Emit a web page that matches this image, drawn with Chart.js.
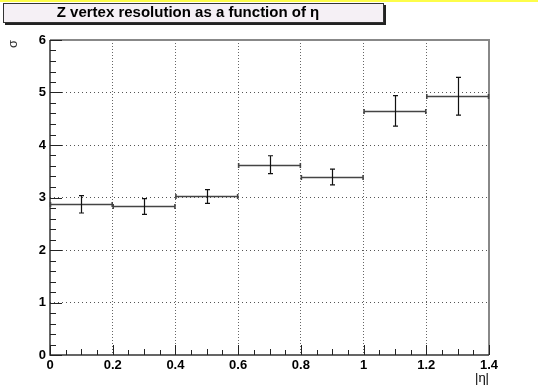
<!DOCTYPE html>
<html>
<head>
<meta charset="utf-8">
<script src="https://cdn.jsdelivr.net/npm/chart.js@4"></script>
<style>
html,body{margin:0;padding:0;background:#fff;}
#wrap{position:relative;width:538px;height:391px;}
</style>
</head>
<body>
<div id="wrap"><canvas id="c" width="538" height="391"></canvas></div>
<script>
// ---- data ----
const binLow  = [0.0, 0.2, 0.4, 0.6, 0.8, 1.0, 1.2];
const binHigh = [0.2, 0.4, 0.6, 0.8, 1.0, 1.2, 1.4];
const sigma    = [2.87, 2.83, 3.02, 3.625, 3.39, 4.65, 4.93];
const sigmaErr = [0.165, 0.15, 0.13, 0.17, 0.15, 0.29, 0.36];
const xTickValues = [0, 0.2, 0.4, 0.6, 0.8, 1.0, 1.2, 1.4];
const xTickLabels = ["0", "0.2", "0.4", "0.6", "0.8", "1", "1.2", "1.4"];
const yTickValues = [0, 1, 2, 3, 4, 5, 6];
const yTickLabels = ["0", "1", "2", "3", "4", "5", "6"];
const titleText = "Z vertex resolution as a function of \u03B7";
const xTitle = "|\u03B7|";
const yTitle = "\u03C3";

const points = binLow.map((lo, i) => ({
  x: (lo + binHigh[i]) / 2, y: sigma[i], lo: lo, hi: binHigh[i], err: sigmaErr[i]
}));

const rootPlugin = {
  id: 'rootStyle',
  beforeDraw(chart) {
    const ctx = chart.ctx;
    ctx.save();
    ctx.fillStyle = '#fdfd4a';
    ctx.fillRect(0, 0, 538, 2);
    ctx.fillStyle = '#222';
    ctx.fillRect(5, 5, 381, 20);
    ctx.fillStyle = '#f5f0f5';
    ctx.fillRect(3, 3, 381, 20);
    ctx.strokeStyle = '#333';
    ctx.lineWidth = 1;
    ctx.strokeRect(3.5, 3.5, 380, 19);
    ctx.fillStyle = '#000';
    ctx.font = 'bold 15px "Liberation Sans", Arial, sans-serif';
    ctx.textAlign = 'center';
    ctx.textBaseline = 'middle';
    ctx.fillText(titleText, 188, 13);
    ctx.restore();
  },
  afterDraw(chart) {
    const ctx = chart.ctx;
    const xs = chart.scales.x, ys = chart.scales.y;
    const a = chart.chartArea;
    ctx.save();
    ctx.strokeStyle = '#888';
    ctx.lineWidth = 2;
    ctx.beginPath();
    ctx.moveTo(a.left, a.top); ctx.lineTo(a.right, a.top); ctx.lineTo(a.right, a.bottom);
    ctx.stroke();
    ctx.strokeStyle = '#333';
    ctx.lineWidth = 1.5;
    ctx.beginPath();
    ctx.moveTo(a.left, a.top); ctx.lineTo(a.left, a.bottom); ctx.lineTo(a.right, a.bottom);
    ctx.stroke();
    ctx.lineWidth = 1;
    ctx.strokeStyle = '#222';
    ctx.beginPath();
    for (let k = 0; k <= 30; k++) {
      const v = k * 0.2;
      if (v > 6.0001) break;
      const py = Math.round(ys.getPixelForValue(v)) + 0.5;
      const len = (k % 5 === 0) ? 12 : 6;
      ctx.moveTo(a.left, py); ctx.lineTo(a.left + len, py);
    }
    for (let k = 0; k <= 28; k++) {
      const v = k * 0.05;
      const px = Math.round(xs.getPixelForValue(v)) + 0.5;
      const len = (k % 4 === 0) ? 10 : (k % 2 === 0 ? 6 : 5);
      ctx.moveTo(px, a.bottom); ctx.lineTo(px, a.bottom - len);
    }
    ctx.stroke();
    const meta = chart.getDatasetMeta(0);
    meta.data.forEach((el, i) => {
      const p = points[i];
      const yc = Math.round(el.y) + 0.5;
      const x1 = xs.getPixelForValue(p.lo), x2 = xs.getPixelForValue(p.hi);
      const yt = ys.getPixelForValue(p.y + p.err), yb = ys.getPixelForValue(p.y - p.err);
      ctx.strokeStyle = '#444';
      ctx.lineWidth = 1.6;
      ctx.beginPath();
      ctx.moveTo(x1, yc); ctx.lineTo(x2, yc);
      ctx.moveTo(x1 + 0.5, yc - 2.5); ctx.lineTo(x1 + 0.5, yc + 2.5);
      ctx.moveTo(x2 - 0.5, yc - 2.5); ctx.lineTo(x2 - 0.5, yc + 2.5);
      ctx.stroke();
      ctx.strokeStyle = '#111';
      ctx.lineWidth = 1.2;
      const xc = Math.round(el.x) + 0.5;
      ctx.beginPath();
      ctx.moveTo(xc, yt); ctx.lineTo(xc, yb);
      ctx.moveTo(xc - 2.5, yt); ctx.lineTo(xc + 2.5, yt);
      ctx.moveTo(xc - 2.5, yb); ctx.lineTo(xc + 2.5, yb);
      ctx.stroke();
    });
    ctx.fillStyle = '#000';
    ctx.font = '13px "Liberation Sans", Arial, sans-serif';
    ctx.textAlign = 'right';
    ctx.textBaseline = 'top';
    ctx.fillText(xTitle, a.right, 372);
    ctx.save();
    ctx.translate(13, a.top);
    ctx.rotate(-Math.PI / 2);
    ctx.textAlign = 'right';
    ctx.textBaseline = 'middle';
    ctx.fillStyle = '#333';
    ctx.font = '13px "Liberation Sans", Arial, sans-serif';
    ctx.fillText(yTitle, 0, 0);
    ctx.restore();
    ctx.restore();
  }
};

new Chart(document.getElementById('c'), {
  type: 'scatter',
  data: {
    datasets: [{
      data: points,
      showLine: false,
      pointRadius: 0,
      pointHoverRadius: 0
    }]
  },
  options: {
    responsive: false,
    animation: false,
    events: [],
    layout: { padding: { left: 0, top: 40, right: 49, bottom: 0 } },
    plugins: { legend: { display: false }, tooltip: { enabled: false }, title: { display: false } },
    scales: {
      x: {
        type: 'linear', min: 0, max: 1.4,
        afterFit(s) { s.height = 36; },
        afterBuildTicks(s) { s.ticks = xTickValues.map(v => ({ value: v })); },
        ticks: {
          padding: 3, color: '#000',
          font: { family: '"Liberation Sans", Arial, sans-serif', size: 13, weight: 'bold' },
          callback: (v) => { const i = xTickValues.findIndex(t => Math.abs(t - v) < 1e-6); return i >= 0 ? xTickLabels[i] : ''; },
          maxRotation: 0, autoSkip: false
        },
        grid: { color: (c) => (c.tick && (c.tick.value === 0 || c.tick.value === 1.4)) ? 'rgba(0,0,0,0)' : '#666', lineWidth: 1, drawTicks: false },
        border: { display: false, dash: [1, 2] }
      },
      y: {
        type: 'linear', min: 0, max: 6,
        afterFit(s) { s.width = 50; },
        afterBuildTicks(s) { s.ticks = yTickValues.map(v => ({ value: v })); },
        ticks: {
          padding: 4, color: '#000',
          font: { family: '"Liberation Sans", Arial, sans-serif', size: 13, weight: 'bold' },
          callback: (v) => { const i = yTickValues.findIndex(t => Math.abs(t - v) < 1e-6); return i >= 0 ? yTickLabels[i] : ''; },
          autoSkip: false
        },
        grid: { color: (c) => (c.tick && (c.tick.value === 0 || c.tick.value === 6)) ? 'rgba(0,0,0,0)' : '#555', lineWidth: 1, drawTicks: false },
        border: { display: false, dash: [1, 3] }
      }
    }
  },
  plugins: [rootPlugin]
});
</script>
</body>
</html>
